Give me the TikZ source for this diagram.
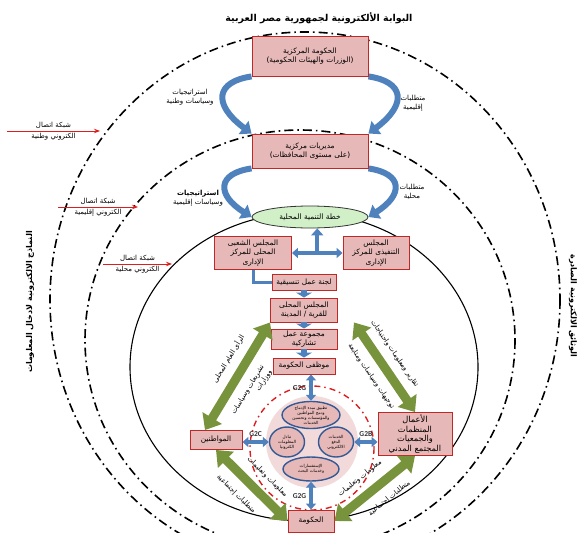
\documentclass[tikz,border=0pt]{standalone}
\usepackage{fontspec}
\setmainfont{DejaVu Sans}
\newfontfamily\arabicfont[Script=Arabic]{DejaVu Sans}
\newfontfamily\latinfont{Carlito}
\TeXXeTstate=1
\usetikzlibrary{arrows.meta, calc, shapes.geometric, positioning}
\newcommand{\ar}[1]{\beginR#1\endR}
\definecolor{boxpink}{RGB}{230,184,183}
\definecolor{boxred}{RGB}{192,40,40}
\definecolor{arcblue}{RGB}{79,129,189}
\definecolor{ringblue}{RGB}{52,90,150}
\definecolor{leafgreen}{RGB}{119,147,60}
\definecolor{planfill}{RGB}{210,240,200}
\definecolor{corepink}{RGB}{243,218,218}
\definecolor{netred}{RGB}{220,30,30}
\pgfdeclarelayer{back}
\pgfsetlayers{back,main}
\tikzset{arlabel/.style={font=\arabicfont\fontsize{7}{9}\selectfont, text=black, align=center, inner sep=1pt}}
\tikzset{govbox/.style={draw=boxred, fill=boxpink, line width=0.9pt, align=center, inner sep=1pt, font=\arabicfont\fontsize{7.4}{9.5}\selectfont}}
\tikzset{servshape/.style={ellipse, draw=ringblue, fill=boxpink, line width=1.4pt, inner sep=0pt, align=center, font=\arabicfont\fontsize{4.2}{5}\selectfont}}
\tikzset{bluearc/.style={arcblue, line width=6pt, -{Triangle[width=16pt,length=10pt]}}}
\tikzset{bluelink/.style={arcblue, line width=3.5pt, {Triangle[width=10pt,length=6pt]}-{Triangle[width=10pt,length=6pt]}}}
\tikzset{bluedown/.style={arcblue, line width=6pt, -{Triangle[width=16pt,length=5pt]}}}
\tikzset{greenlink/.style={leafgreen, line width=9pt, {Triangle[width=22pt,length=14pt]}-{Triangle[width=22pt,length=14pt]}}}
\tikzset{netarrow/.style={netred, line width=0.9pt, -{Stealth[length=6pt]}}}
\tikzset{ringdash/.style={line width=1.6pt, dash pattern=on 9pt off 4pt on 1.6pt off 4pt}}
\tikzset{gtag/.style={font=\latinfont\bfseries\fontsize{7.5}{8}\selectfont, text=black!80, inner sep=0pt}}

\begin{document}
\begin{tikzpicture}[x=1pt, y=-1pt]
    \useasboundingbox (0,0) rectangle (585,532);

    % national, regional and local rings
    \draw[ringdash] (305,300) ellipse [x radius=255, y radius=268];
    \draw[ringdash] (300,340) ellipse [x radius=215, y radius=210];
    \draw[line width=1.1pt] (304,367) ellipse [x radius=174, y radius=154];
    \draw[netred, line width=1.4pt, dash pattern=on 6pt off 4pt on 1.5pt off 4pt] (312,448) circle [radius=62];
    \fill[corepink] (312,442) circle [radius=46];

    \node[font=\arabicfont\bfseries\fontsize{9.5}{11}\selectfont] (title) at (319,18) {\ar{البوابة الألكترونية لجمهورية مصر العربية}};
    \node[rotate=90, font=\arabicfont\bfseries\fontsize{8}{9}\selectfont] (informs) at (30,302) {\ar{النماذج الالكترونية لادخال المعلومات}};
    \node[rotate=-90, font=\arabicfont\bfseries\fontsize{8}{9}\selectfont] (outdocs) at (573,306) {\ar{الوثائق الالكترونية الصادرة}};

    \node[govbox, minimum width=116, minimum height=40] (cgov) at (310,56) {\ar{الحكومة المركزية}\\\ar{(الوزرات والهيئات الحكومية)}};
    \node[govbox, minimum width=116, minimum height=34] (dirs) at (310,151) {\ar{مديريات مركزية}\\\ar{(على مستوى المحافظات)}};
    \node[ellipse, draw=black!80, fill=planfill, line width=0.8pt, minimum width=116, minimum height=22, inner sep=0pt, font=\arabicfont\fontsize{7.5}{9}\selectfont] (plan) at (310,217) {\ar{خطة التنمية المحلية}};
    \node[govbox, minimum width=77, minimum height=33] (popc) at (253,253) {\ar{المجلس الشعبى}\\\ar{المحلى للمركز}\\\ar{الإدارى}};
    \node[govbox, minimum width=66, minimum height=33] (exec) at (376,253) {\ar{المجلس}\\\ar{التنفيذى للمركز}\\\ar{الإدارى}};
    \node[govbox, minimum width=64, minimum height=16] (coord) at (304,282) {\ar{لجنة عمل تنسيقية}};
    \node[govbox, minimum width=67, minimum height=24] (vill) at (304,310) {\ar{المجلس المحلى}\\\ar{للقرية / المدينة}};
    \node[govbox, minimum width=66, minimum height=20] (part) at (304,339) {\ar{مجموعة عمل}\\\ar{تشاركية}};
    \node[govbox, minimum width=62, minimum height=16] (staff) at (304,366) {\ar{موظفى الحكومة}};

    \node[servshape, minimum width=58, minimum height=27] (merge) at (311,415) {\ar{تطبيق مبدء الإدماج}\\\ar{ودمج المواطنين}\\\ar{والمؤسسات وتحسين}\\\ar{الخدمات}};
    \node[servshape, minimum width=35, minimum height=30] (share) at (287,442) {\ar{تبادل}\\\ar{المعلومات}\\\ar{الكترونيا}};
    \node[servshape, minimum width=35, minimum height=30] (pay) at (336,442) {\ar{الخدمات}\\\ar{الدفع}\\\ar{الالكتروني}};
    \node[servshape, minimum width=56, minimum height=24] (query) at (311,469) {\ar{الإستفسارات}\\\ar{وخدمات البحث}};

    \node[govbox, minimum width=52, minimum height=19] (citz) at (216,440) {\ar{المواطنين}};
    \node[govbox, minimum width=74, minimum height=43, font=\arabicfont\fontsize{8.3}{9.5}\selectfont] (biz) at (415,434) {\ar{الأعمال}\\\ar{المنظمات}\\\ar{والجمعيات}\\\ar{المجتمع المدني}};
    \node[govbox, minimum width=46, minimum height=22] (gov) at (311,521) {\ar{الحكومة}};

    \node[arlabel] (natpol) at (190,97) {\ar{استراتيجيات}\\\ar{وسياسات وطنية}};
    \node[arlabel] (regneed) at (413,103) {\ar{متطلبات}\\\ar{إقليمية}};
    \node[arlabel] (regpol) at (198,198) {\textbf{\ar{استراتيجيات}}\\\ar{وسياسات إقليمية}};
    \node[arlabel] (locneed) at (412,192) {\ar{متطلبات}\\\ar{محلية}};

    \begin{pgfonlayer}{back}
        \draw[bluearc] (cgov.south west) .. controls +(-35,5) and +(-40,-30) .. (dirs.north west);
        \draw[bluearc] (cgov.south east) .. controls +(35,5) and +(40,-30) .. (dirs.north east);
        \draw[bluearc] (dirs.south west) .. controls +(-35,5) and +(-35,-22) .. (plan.west);
        \draw[bluearc] (dirs.south east) .. controls +(35,5) and +(35,-22) .. (plan.east);
    \end{pgfonlayer}

    \draw[bluelink] (popc.east) -- (exec.west);
    \coordinate (tmid) at ($(popc.east)!0.5!(exec.west)$);
    \draw[arcblue, line width=4pt, -{Triangle[width=12pt,length=7pt]}] (tmid) -- (tmid |- plan.south);
    \draw[arcblue, line width=3pt] (popc.south) |- (coord.west);
    \draw[bluedown] (coord.south) -- (vill.north);
    \draw[bluedown] (vill.south) -- (part.north);
    \draw[bluedown] (part.south) -- (staff.north);

    \draw[bluelink] (merge.north |- staff.south) -- (merge.north) node[gtag, midway, left=3pt] {G2G};
    \draw[bluelink] (query.south) -- (query.south |- gov.north) node[gtag, midway, left=3pt] {G2G};
    \draw[bluelink] (share.west -| citz.east) -- (share.west) node[gtag, midway, above=4pt] {G2C};
    \draw[bluelink] (pay.east) -- (pay.east -| biz.west) node[gtag, midway, above=4pt] {G2B};

    \draw[greenlink] ([xshift=-11]citz.north) -- (vill.south west)
        node[arlabel, pos=0.58, sloped, above=7pt] {\ar{الرأى العام المحلى}}
        node[arlabel, pos=0.45, sloped, below=7pt, align=right] {\ar{تشريعات وسياسات}\\\ar{ووزارات}};
    \draw[greenlink] ([xshift=16]vill.south east) -- (biz.north)
        node[arlabel, pos=0.45, sloped, above=7pt] {\ar{تقارير ومعلومات واحتياجات}}
        node[arlabel, pos=0.5, sloped, below=7pt] {\ar{توجيهات وسياسات ومتابعة}};
    \draw[greenlink] (citz.south) -- (gov.west)
        node[arlabel, pos=0.55, sloped, above=8pt] {\ar{معلومات وتعليمات}}
        node[arlabel, pos=0.45, sloped, below=8pt] {\ar{متطلبات إجتماعية}};
    \draw[greenlink] (gov.east) -- (biz.south)
        node[arlabel, pos=0.45, sloped, above=8pt] {\ar{معلومات وتعليمات}}
        node[arlabel, pos=0.55, sloped, below=8pt] {\ar{متطلبات إجتماعية}};

    % links into the three networks
    \coordinate (natsrc) at (7,131);
    \coordinate (natend) at (100,131);
    \coordinate (regsrc) at (58,207);
    \coordinate (regend) at (138,207);
    \coordinate (locsrc) at (103,264);
    \coordinate (locend) at (172,264);
    \draw[netarrow] (natsrc) -- (natend) node[arlabel, midway, above=1pt] {\ar{شبكة اتصال}} node[arlabel, midway, below=1pt] {\ar{الكتروني وطنية}};
    \draw[netarrow] (regsrc) -- (regend) node[arlabel, midway, above=1pt] {\ar{شبكة اتصال}} node[arlabel, midway, below=1pt] {\ar{الكتروني إقليمية}};
    \draw[netarrow] (locsrc) -- (locend) node[arlabel, midway, above=1pt] {\ar{شبكة اتصال}} node[arlabel, midway, below=1pt] {\ar{الكتروني محلية}};
\end{tikzpicture}
\end{document}
